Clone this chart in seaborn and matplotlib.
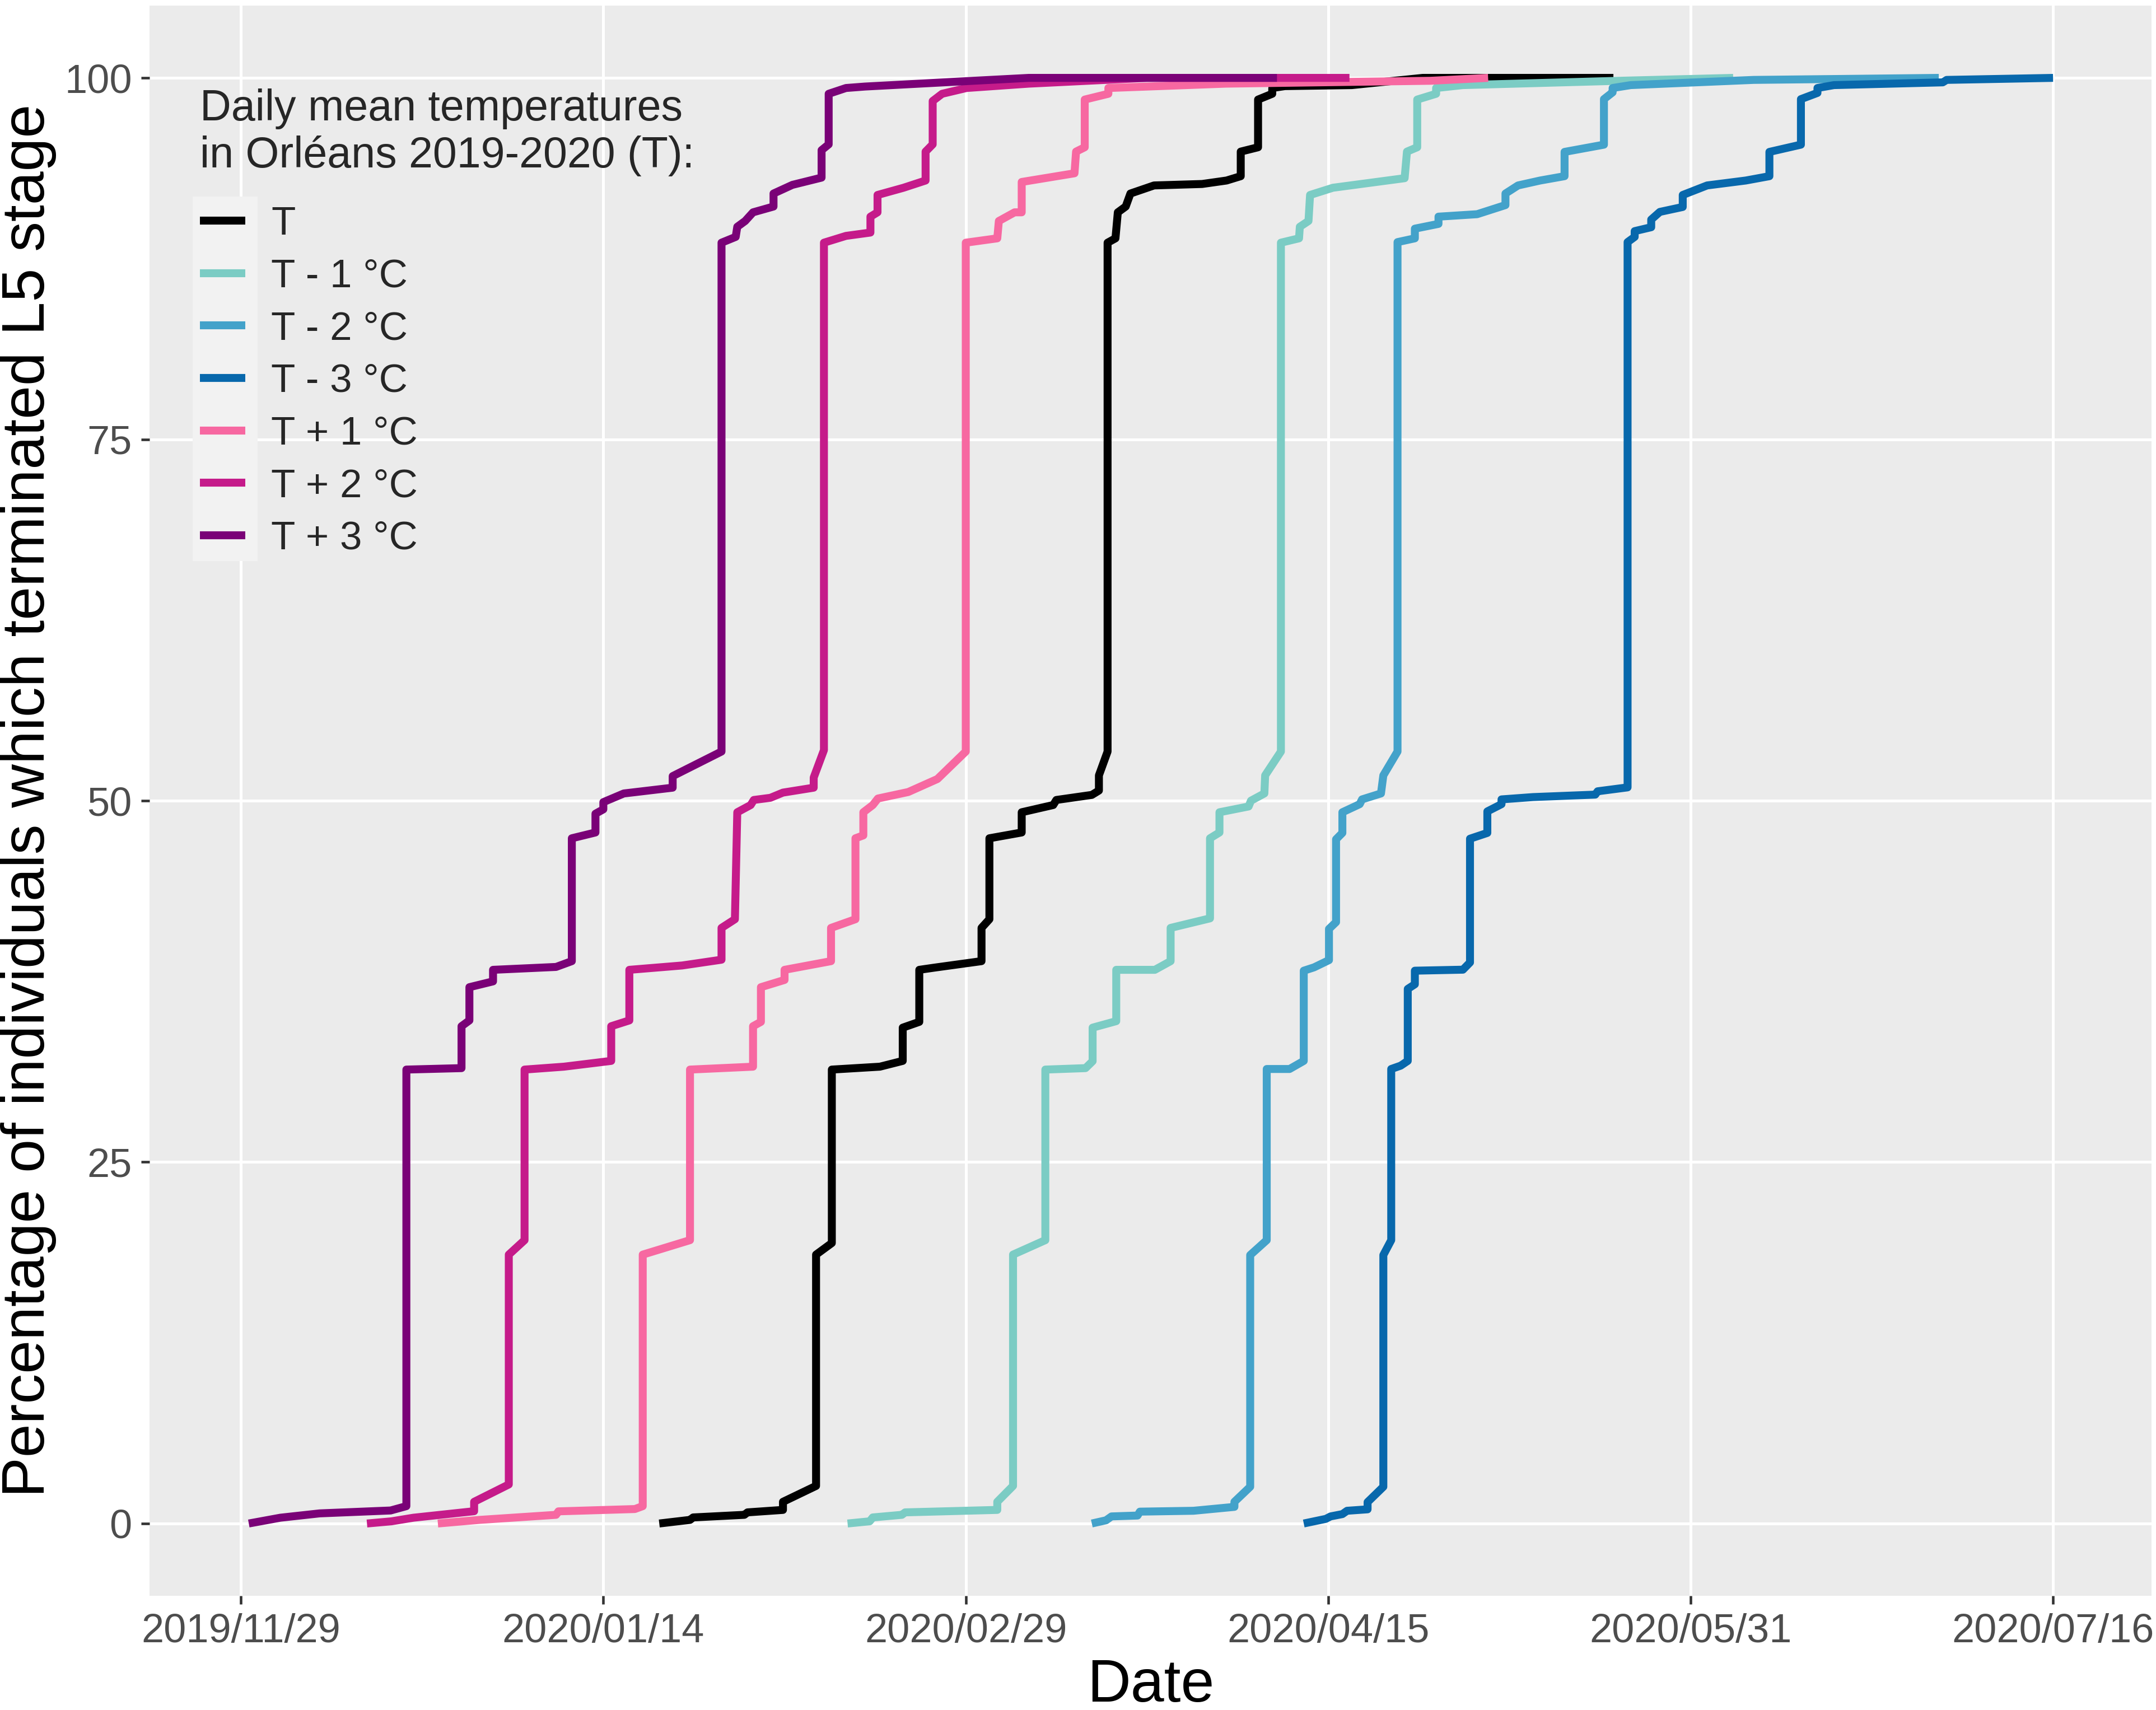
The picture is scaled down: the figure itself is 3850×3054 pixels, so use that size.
import numpy as np
import pandas as pd
import matplotlib
matplotlib.use('Agg')
import matplotlib.pyplot as plt
import matplotlib.dates as mdates
from matplotlib.patches import Rectangle
import seaborn as sns

start = pd.Timestamp('2019-11-29')

# days after 2019/11/29 and cumulative percentage
t_days = [53.1, 57, 57.4, 63.9, 64.3, 68.8, 68.8, 73, 73, 75, 75, 81.1, 84, 84, 86.1, 86.1, 88, 94, 94, 95, 95,
          99.1, 99.1, 103.1, 103.5, 108, 108.9, 108.9, 110, 110, 111, 111.3, 112.3, 112.9, 115.9, 122, 125.1,
          126.9, 126.9, 129.1, 129.1, 130.9, 130.9, 132.5, 141, 150, 174.2]
t_pct = [0, 0.25, 0.42, 0.6, 0.77, 0.94, 1.5, 2.6, 18.6, 19.4, 31.4, 31.6, 32.0, 34.3, 34.7, 38.3, 38.45, 38.9, 41.2, 41.8, 47.4,
         47.8, 49.2, 49.7, 50.05, 50.4, 50.7, 51.75, 53.4, 88.6, 88.9, 90.7, 91.1, 92.0, 92.56, 92.66, 92.9,
         93.2, 94.9, 95.2, 98.5, 98.9, 99.3, 99.43, 99.5, 100, 100]

tm1_days = [77, 79.8, 80.2, 83.9, 84.3, 96, 96, 98, 98, 102.1, 102.1, 107.2, 108.1, 108.1, 111.1, 111.1, 116, 118, 118,
            123, 123, 124.2, 124.2, 127.9, 128.2, 129.9, 130, 132, 132, 134.3, 134.4, 135.5, 135.7, 138.6, 147.7, 148,
            149.3, 149.3, 151.7, 151.7, 155.1, 175, 189.4]
tm1_pct = [0, 0.15, 0.42, 0.6, 0.77, 0.94, 1.5, 2.6, 18.6, 19.6, 31.4, 31.5, 31.98, 34.3, 34.75, 38.3, 38.3, 38.9, 41.2,
           41.86, 47.4, 47.8, 49.2, 49.6, 50.0, 50.5, 51.75, 53.4, 88.6, 88.9, 89.7, 90.1, 91.9, 92.4, 93.06, 94.9,
           95.2, 98.5, 98.9, 99.3, 99.5, 99.8, 100]

tm2_days = [108, 109.8, 110.5, 113.8, 114.1, 120.9, 126.1, 126.1, 128.1, 128.1, 130.2, 130.2, 133.1, 134.9, 134.9,
            136.2, 138.1, 138.1, 139, 139, 139.8, 139.8, 142, 142.3, 144.7, 145, 146.8, 146.8, 149, 149, 152, 152,
            156.9, 160.5, 160.5, 162.1, 164.9, 168, 168, 173, 173, 174.1, 174.1, 176.4, 192, 215.5]
tm2_pct = [0, 0.22, 0.49, 0.55, 0.82, 0.88, 1.15, 1.5, 2.54, 18.57, 19.6, 31.44, 31.44, 32.0, 38.24,
           38.47, 38.97, 41.13, 41.6, 47.33, 47.77, 49.2, 49.76, 50.09, 50.5, 51.75, 53.4, 88.64, 88.9, 89.57, 89.9, 90.4,
           90.57, 91.2, 92.0, 92.56, 92.9, 93.2, 94.88, 95.38, 98.53, 99.0, 99.3, 99.5, 99.86, 100]

tm3_days = [134.9, 137.7, 138.3, 139.8, 140.4, 143, 143, 145, 145, 146, 146, 147.2, 148.1, 148.1, 149, 149, 155.1, 156,
            156, 158.2, 158.2, 160, 160, 164, 171.9, 172.2, 176, 176, 176.9, 176.9, 179, 179, 180.1, 183, 183, 186.1,
            191, 194, 194, 198, 198, 200.1, 200.1, 202.2, 216, 216.5, 230]
tm3_pct = [0, 0.32, 0.49, 0.65, 0.88, 0.98, 1.48, 2.54, 18.57, 19.6, 31.44, 31.67, 32.0, 36.98, 37.3, 38.24, 38.31, 38.81,
           47.37, 47.77, 49.26, 49.76, 50.09, 50.25, 50.42, 50.65, 50.92, 88.64, 89.0, 89.4, 89.67, 90.2, 90.73, 91.07, 91.9, 92.56,
           92.9, 93.2, 94.88, 95.38, 98.53, 98.96, 99.3, 99.5, 99.69, 99.86, 100]

tp1_days = [25, 30.3, 40, 40.3, 50, 51, 51, 57, 57, 65, 65, 66, 66, 69, 69, 74.9, 74.9, 78, 78, 79, 79, 80.2, 80.85,
            84.7, 88.4, 92, 92, 96, 96.2, 98.2, 99.1, 99.1, 105.8, 106, 107.1, 107.1, 110.1, 110.1, 125, 151, 158.3]
tp1_pct = [0, 0.25, 0.6, 0.84, 1.0, 1.2, 18.6, 19.6, 31.4, 31.6, 34.4, 34.7, 37.1, 37.6, 38.3, 38.9, 41.2, 41.8, 47.4, 47.6,
           49.2, 49.7, 50.15, 50.6, 51.5, 53.4, 88.6, 88.9, 90.1, 90.7, 90.7, 92.8, 93.4, 94.9, 95.2, 98.5, 98.9, 99.3,
           99.6, 99.8, 100]

tp2_days = [16, 19.1, 21.9, 29.6, 29.6, 34, 34, 36, 36, 41, 47, 47, 49.3, 49.3, 56, 61, 61, 62.7, 63, 64.7, 65.1, 67.2,
            68.8, 72.7, 72.7, 74, 74, 76.8, 79.9, 79.9, 80.8, 80.8, 84.1, 86.9, 86.9, 87.8, 87.8, 89, 92.1, 100, 115,
            140.7]
tp2_pct = [0, 0.15, 0.4, 0.85, 1.5, 2.7, 18.6, 19.6, 31.4, 31.6, 32.0, 34.4, 34.8, 38.3, 38.6, 39.0, 41.2, 41.8, 49.2,
           49.7, 50.05, 50.2, 50.56, 50.9, 51.6, 53.5, 88.6, 89.07, 89.3, 90.4, 90.7, 91.9, 92.4, 92.9, 94.9, 95.4, 98.4,
           98.9, 99.3, 99.6, 100, 100]

tp3_days = [1, 5, 10, 19, 21, 21, 28, 28, 29, 29, 32, 32, 40, 42, 42, 45, 45, 46, 46, 48.6, 54.8, 54.8, 61, 61, 62.8,
            63, 64, 65, 67.6, 67.6, 70, 73.7, 73.7, 74.6, 74.6, 76.8, 79.2, 93, 100, 131.5]
tp3_pct = [0, 0.4, 0.7, 0.9, 1.2, 31.4, 31.5, 34.4, 34.8, 37.1, 37.5, 38.3, 38.5, 38.9, 47.4, 47.8, 49.1, 49.4, 49.9,
           50.5, 50.9, 51.7, 53.4, 88.6, 89.0, 89.7, 90.1, 90.7, 91.1, 92.0, 92.6, 93.1, 95.0, 95.4, 98.9, 99.3, 99.4,
           99.8, 100, 100]

scenarios = ['T', 'T - 1 °C', 'T - 2 °C', 'T - 3 °C', 'T + 1 °C', 'T + 2 °C', 'T + 3 °C']
colors = ['#000000', '#7bccc4', '#43a2ca', '#0868ac', '#f768a1', '#c51b8a', '#7a0177']
all_days = [t_days, tm1_days, tm2_days, tm3_days, tp1_days, tp2_days, tp3_days]
all_pct = [t_pct, tm1_pct, tm2_pct, tm3_pct, tp1_pct, tp2_pct, tp3_pct]

frames = []
for name, d, p in zip(scenarios, all_days, all_pct):
    frames.append(pd.DataFrame({'date': start + pd.to_timedelta(d, unit='D'),
                                'pct': p, 'scenario': name}))
df = pd.concat(frames, ignore_index=True)

sns.set_style('white')
plt.rcParams['font.family'] = ['Liberation Sans', 'DejaVu Sans']

W, H = 3850, 3054
LW = 3.4
fig = plt.figure(figsize=(W / 300, H / 300), dpi=300)
ax = fig.add_axes([267 / W, 1 - 2850 / H, (3842 - 267) / W, (2850 - 10) / H])
ax.set_facecolor('#EBEBEB')

sns.lineplot(data=df, x='date', y='pct', hue='scenario', hue_order=scenarios,
             palette=colors, estimator=None, sort=False, linewidth=LW,
             solid_capstyle='butt', solid_joinstyle='round', ax=ax)

ticks = pd.date_range('2019-11-29', periods=6, freq='46D')
ax.set_xticks(ticks)
ax.xaxis.set_major_formatter(mdates.DateFormatter('%Y/%m/%d'))
ax.set_xlim(start - pd.Timedelta(days=11.6), start + pd.Timedelta(days=242.5))
ax.set_ylim(-5, 105)
ax.set_yticks([0, 25, 50, 75, 100])

ax.grid(True, color='white', linewidth=1.2)
ax.set_axisbelow(True)
for s in ax.spines.values():
    s.set_visible(False)
ax.tick_params(axis='both', which='major', length=3.5, width=1.1, color='#333333',
               labelcolor='#4D4D4D', labelsize=17.3, pad=4)
ax.tick_params(left=True, bottom=True)

ax.set_xlabel('Date', fontsize=25.8, color='black', labelpad=3)
ax.set_ylabel('Percentage of individuals which terminated L5 stage', fontsize=25.8,
              color='black', labelpad=3.5)

# lighter background behind the legend keys
ax.add_patch(Rectangle((344 / W, 1 - 1002 / H), (460 - 344) / W, (1002 - 351) / H,
                       transform=fig.transFigure, facecolor='#F2F2F2', edgecolor='none', zorder=1))

handles, labels = ax.get_legend_handles_labels()
for h in handles:
    h.set_linewidth(LW)
    h.set_solid_capstyle('butt')
leg = ax.legend(handles, labels, title='Daily mean temperatures\nin Orléans 2019-2020 (T):',
                loc='upper left', bbox_to_anchor=(357 / W, 1 - 158 / H), bbox_transform=fig.transFigure,
                frameon=False, fontsize=17, title_fontsize=18.5, handlelength=1.15,
                handletextpad=0.65, labelspacing=0.39, borderpad=0, borderaxespad=0,
                alignment='left')
# a bit more room between the title and the keys
leg._legend_box.sep = 0.39 * 17 + 6

fig.savefig('out.png', dpi=300)
